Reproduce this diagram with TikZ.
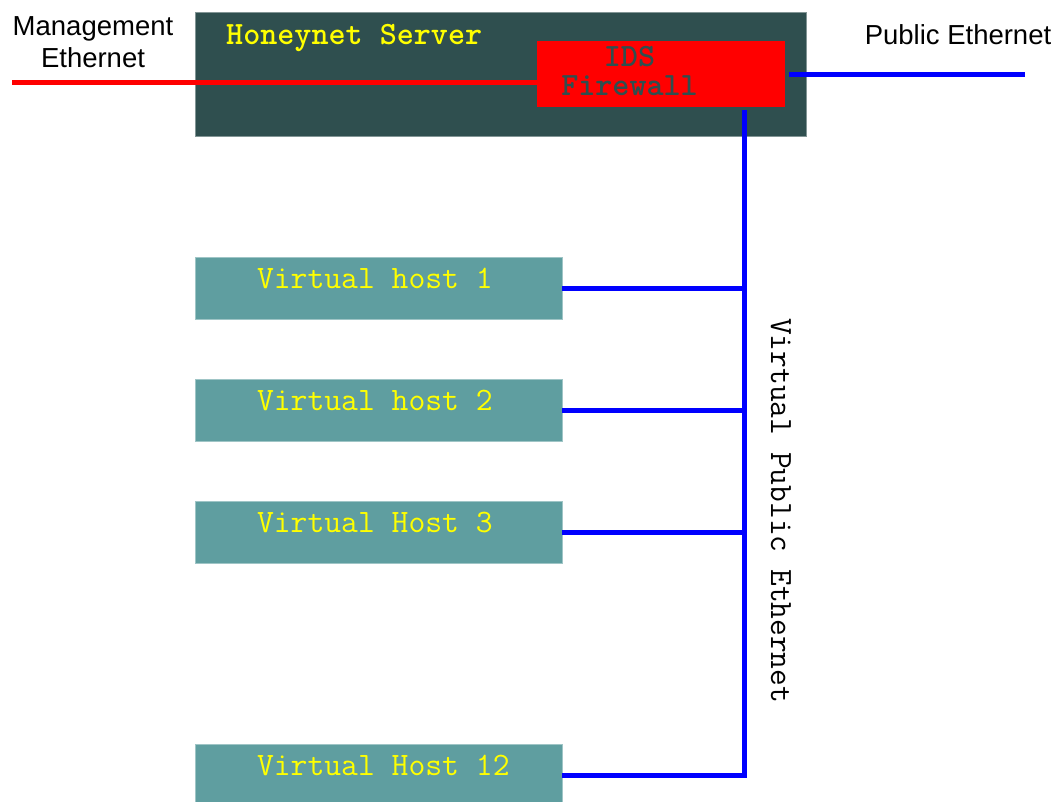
\documentclass[tikz,border=0pt]{standalone}
\usepackage{fontspec}
\setmainfont{Liberation Sans}
\definecolor{slate}{HTML}{2F4F4F}
\definecolor{cadet}{HTML}{5F9EA0}
\definecolor{txtyellow}{HTML}{FFFF00}
\newcommand{\hosttext}[1]{\makebox[243pt][l]{#1}}
\begin{document}
\begin{tikzpicture}[x=1pt,y=-1pt,
  serverbox/.style={draw=slate!60!white, line width=0.8pt, fill=slate, inner sep=0pt},
  fwbox/.style={fill=red, inner sep=0pt},
  hostbox/.style={draw=cadet!60!white, line width=0.8pt, fill=cadet, inner ysep=0pt, inner xsep=62pt,
     minimum width=367pt, minimum height=62pt, text height=20pt, text depth=20pt,
     font=\ttfamily\fontsize{32.7}{33}\selectfont, text=txtyellow},
  monotxt/.style={font=\ttfamily\fontsize{32.5}{33}\selectfont, inner sep=0pt},
  sanstxt/.style={font=\fontsize{27.5}{32}\selectfont, inner sep=0pt},
  redlink/.style={draw=red, line width=5pt},
  bluelink/.style={draw=blue, line width=5pt}]
\useasboundingbox (0,0) rectangle (1057,801);
% server
\node[serverbox, minimum width=611pt, minimum height=124pt] (server) at (500.5,74) {};
\node[fwbox, minimum width=248pt, minimum height=66pt] (fw) at (661,74) {};
\node[monotxt, text=txtyellow, anchor=base west] (srvlabel) at (226,44) {\bfseries Honeynet Server};
\node[font=\ttfamily\bfseries\fontsize{32.5}{29}\selectfont, inner sep=0pt, text=slate, align=center, anchor=north] (fwlabel) at (629.5,46) {IDS\\Firewall};
% outside labels
\node[sanstxt, align=center, anchor=north] (mgmt) at (93,16) {Management\\Ethernet};
\node[sanstxt, anchor=base] (pub) at (958,44) {Public Ethernet};
% hosts
\node[hostbox] (h1) at (378.5,288) {\hosttext{Virtual host 1}};
\node[hostbox] (h2) at (378.5,410) {\hosttext{Virtual host 2}};
\node[hostbox] (h3) at (378.5,532) {\hosttext{Virtual Host 3}};
\node[hostbox] (h12) at (378.5,775) {\hosttext{Virtual Host 12}};
% coordinates
\coordinate (mgmtend) at (12,82);
\coordinate (pubend) at (1025,74);
\coordinate (bustop) at (744,112);
\coordinate (busbot) at (744,775);
% links
\draw[redlink] (mgmtend) -- (fw.west |- mgmtend);
\draw[bluelink] ([xshift=4pt]fw.east) -- (pubend);
\draw[bluelink, line cap=rect] (bustop) -- (busbot);
\draw[bluelink] (h1.east) -- (h1.east -| bustop);
\draw[bluelink] (h2.east) -- (h2.east -| bustop);
\draw[bluelink] (h3.east) -- (h3.east -| bustop);
\draw[bluelink] (h12.east) -- (busbot);
% bus label
\node[monotxt, rotate=-90, anchor=base west] (buslabel) at (771,318) {Virtual Public Ethernet};
\end{tikzpicture}
\end{document}
